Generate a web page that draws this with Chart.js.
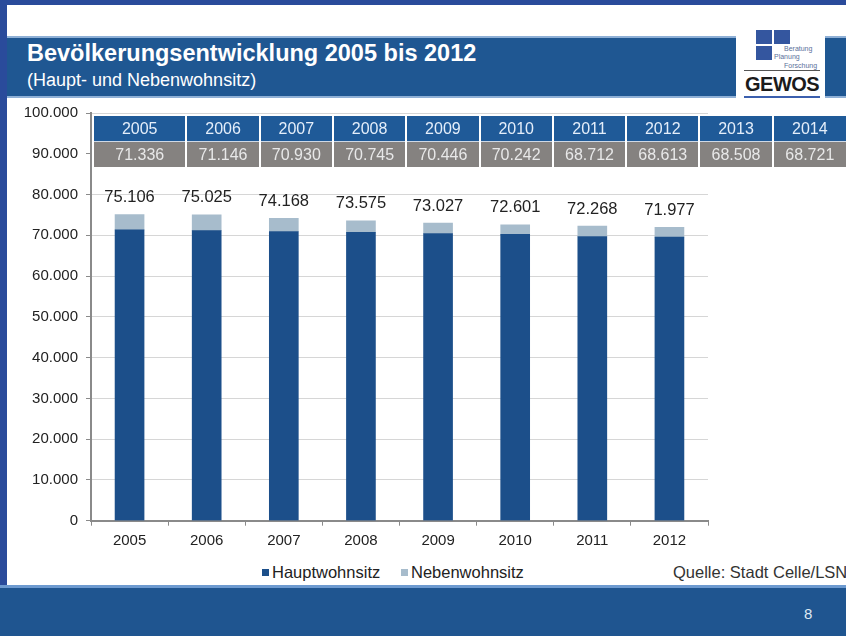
<!DOCTYPE html>
<html>
<head>
<meta charset="utf-8">
<script src="https://cdn.jsdelivr.net/npm/chart.js@4.4.1/dist/chart.umd.min.js"></script>
<style>
  html,body{margin:0;padding:0;}
  body{width:846px;height:636px;position:relative;overflow:hidden;background:#2a4b9b;font-family:"Liberation Sans",Arial,sans-serif;}
  .slide{position:absolute;left:7px;top:5px;width:839px;height:580px;background:#fff;}
  .titlebar{position:absolute;left:7px;top:36px;width:839px;height:62px;background:#1f5792;border-top:2px solid #8fb0d6;border-bottom:2px solid #8fb0d6;box-sizing:border-box;}
  .title{position:absolute;left:27px;top:40px;color:#fff;font-weight:bold;font-size:23.5px;}
  .subtitle{position:absolute;left:27px;top:70px;color:#fff;font-size:18px;}
  .logo{position:absolute;left:736px;top:28px;width:89px;height:72px;background:#fff;}
  .sq{position:absolute;background:#34569f;width:16px;height:14px;}
  .lt{position:absolute;font-size:7px;color:#5a6f9a;line-height:8px;}
  .gewos{position:absolute;left:9px;top:45px;font-size:20px;font-weight:bold;color:#1b1b1b;letter-spacing:-0.5px;}
  #wrap{position:absolute;left:20px;top:96px;width:700px;height:460px;}
  table.ov{position:absolute;left:92px;top:116px;border-collapse:collapse;table-layout:fixed;z-index:2;}
  table.ov td{height:25px;padding:0;text-align:center;font-size:16px;border-left:2px solid #fff;}
  table.ov tr.h td{background:#1f5a98;color:#e4eefa;border-bottom:1px solid #cfd9e6;}
  table.ov tr.v td{background:#858280;color:#e8e8e8;}
  .legend{position:absolute;top:563px;font-size:16.5px;color:#222;}
  .mk{display:inline-block;width:7px;height:7px;margin-right:3px;vertical-align:2px;}
  .src{position:absolute;left:673px;top:563px;font-size:16.5px;color:#333;white-space:nowrap;}
  .footline{position:absolute;left:0;top:585px;width:846px;height:3px;background:#6d9ad0;}
  .footer{position:absolute;left:0;top:588px;width:846px;height:48px;background:#1f5590;}
  .pg{position:absolute;left:804px;top:605px;color:#dfe8f3;font-size:15px;}
</style>
</head>
<body>
<div class="slide"></div>
<div class="titlebar"></div>
<div class="title">Bevölkerungsentwicklung 2005 bis 2012</div>
<div class="subtitle">(Haupt- und Nebenwohnsitz)</div>
<div class="logo">
  <div class="sq" style="left:20px;top:2px"></div>
  <div class="sq" style="left:38px;top:2px"></div>
  <div class="sq" style="left:20px;top:18px"></div>
  <div class="lt" style="left:48px;top:17px">Beratung</div>
  <div class="lt" style="left:38px;top:25px">Planung</div>
  <div class="lt" style="left:48px;top:34px">Forschung</div>
  <div style="position:absolute;left:8px;top:42px;width:76px;height:1px;background:#555"></div>
  <div class="gewos">GEWOS</div>
  <div style="position:absolute;left:8px;top:68px;width:76px;height:2px;background:#3b5fae"></div>
</div>

<div id="wrap"><canvas id="c" width="700" height="460"></canvas></div>
<table class="ov" id="tbl"></table>

<div class="legend" style="left:262px"><span class="mk" style="background:#1c4f8a"></span>Hauptwohnsitz</div>
<div class="legend" style="left:401px"><span class="mk" style="background:#a7bccc"></span>Nebenwohnsitz</div>
<div class="src">Quelle: Stadt Celle/LSN</div>
<div class="footline"></div>
<div class="footer"></div>
<div class="pg">8</div>

<script>
// chart data
const years = ['2005','2006','2007','2008','2009','2010','2011','2012'];
const haupt = [71336, 71146, 70930, 70745, 70446, 70242, 69700, 69550];
const neben = [3770, 3879, 3238, 2830, 2581, 2359, 2568, 2427];
const totals = [75106, 75025, 74168, 73575, 73027, 72601, 72268, 71977];

// overlay table
const tableYears = ['2005','2006','2007','2008','2009','2010','2011','2012','2013','2014'];
const tableValues = [71336, 71146, 70930, 70745, 70446, 70242, 68712, 68613, 68508, 68721];

const fmt = (v) => String(v).replace(/\B(?=(\d{3})+(?!\d))/g, '.');

const tbl = document.getElementById('tbl');
const widths = tableYears.map((_,i)=> i===0 ? 94 : 73.6);
tbl.innerHTML =
  '<colgroup>' + widths.map(w=>`<col style="width:${w}px">`).join('') + '</colgroup>' +
  '<tr class="h">' + tableYears.map(y=>`<td>${y}</td>`).join('') + '</tr>' +
  '<tr class="v">' + tableValues.map(v=>`<td>${fmt(v)}</td>`).join('') + '</tr>';

const totalLabels = {
  id: 'totalLabels',
  afterDatasetsDraw(chart){
    const ctx = chart.ctx;
    const meta = chart.getDatasetMeta(1);
    ctx.save();
    ctx.font = '16.5px "Liberation Sans", Arial, sans-serif';
    ctx.fillStyle = '#222';
    ctx.textAlign = 'center';
    ctx.textBaseline = 'middle';
    meta.data.forEach((bar, i) => {
      ctx.fillText(fmt(totals[i]), bar.x, bar.y - 17);
    });
    ctx.restore();
  }
};

new Chart(document.getElementById('c'), {
  type: 'bar',
  data: {
    labels: years,
    datasets: [
      { label: 'Hauptwohnsitz', data: haupt, backgroundColor: '#1c4f8a', barThickness: 29 },
      { label: 'Nebenwohnsitz', data: neben, backgroundColor: '#a7bccc', barThickness: 29 }
    ]
  },
  options: {
    responsive: false,
    animation: false,
    layout: { padding: { top: 8, right: 12, left: 0, bottom: 0 } },
    plugins: { legend: { display: false }, tooltip: { enabled: false } },
    scales: {
      x: {
        stacked: true,
        grid: { drawOnChartArea: false, tickLength: 5, tickColor: '#8a8a8a', offset: true },
        border: { color: '#8a8a8a', width: 2 },
        ticks: { color: '#222', font: { size: 15, family: '"Liberation Sans", Arial' }, padding: 6 },
        afterFit: (s) => { s.height = 35.3; }
      },
      y: {
        stacked: true,
        min: 0, max: 100000,
        grid: { color: '#d6d6d6', tickLength: 5, tickColor: '#8a8a8a' },
        border: { color: '#8a8a8a', width: 2 },
        ticks: { stepSize: 10000, color: '#222', padding: 8, font: { size: 15, family: '"Liberation Sans", Arial' }, callback: (v) => fmt(v) },
        afterFit: (s) => { s.width = 71; }
      }
    }
  },
  plugins: [totalLabels]
});
</script>
</body>
</html>
